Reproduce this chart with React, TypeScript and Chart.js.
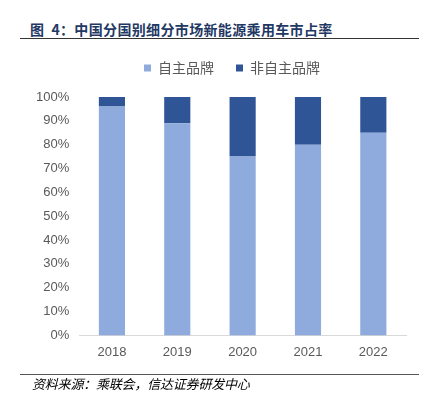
import React, { useEffect, useRef } from "react";
import { Chart, registerables } from "chart.js";
Chart.register(...registerables);

const categories = ["2018", "2019", "2020", "2021", "2022"];
const domesticShare = [96, 89, 75, 80, 85];
const foreignShare = [4, 11, 25, 20, 15];
const seriesNames = ["自主品牌", "非自主品牌"];
const yTicks = [0, 10, 20, 30, 40, 50, 60, 70, 80, 90, 100];

const FONT = "'Noto Sans CJK SC', 'Liberation Sans', sans-serif";
const NUM_FONT = "'Liberation Sans', sans-serif";

const legendSpacer = {
  id: "legendSpacer",
  beforeInit(chart: any) {
    const orig = chart.legend.fit;
    chart.legend.fit = function () {
      orig.bind(chart.legend)();
      this.height += 12;
    };
  },
  afterLayout(chart: any) {
    chart.legend.left += 16;
    chart.legend.right += 16;
  },
};

export default function App() {
  const ref = useRef<HTMLCanvasElement>(null);
  useEffect(() => {
    const chart = new Chart(ref.current!, {
      type: "bar",
      data: {
        labels: categories,
        datasets: [
          { label: seriesNames[0], data: domesticShare, backgroundColor: "#8faadc", barPercentage: 0.8, categoryPercentage: 0.5 },
          { label: seriesNames[1], data: foreignShare, backgroundColor: "#2f5597", barPercentage: 0.8, categoryPercentage: 0.5 },
        ],
      },
      plugins: [legendSpacer],
      options: {
        animation: false,
        responsive: false,
        maintainAspectRatio: false,
        layout: { padding: { left: 0, right: 11, top: 0, bottom: 11 } },
        plugins: {
          legend: {
            position: "top",
            labels: {
              boxWidth: 7,
              boxHeight: 7,
              color: "#595959",
              font: { family: FONT, size: 14 },
              padding: 22,
            },
          },
          tooltip: { enabled: false },
        },
        scales: {
          x: {
            stacked: true,
            grid: { display: false, drawTicks: false },
            border: { color: "#d9d9d9" },
            ticks: { color: "#595959", padding: 9, font: { family: NUM_FONT, size: 13 } },
          },
          y: {
            stacked: true,
            min: 0,
            max: 100,
            afterBuildTicks: (axis: any) => {
              axis.ticks = yTicks.map((v) => ({ value: v }));
            },
            grid: { display: false, drawTicks: false },
            border: { display: false },
            ticks: {
              color: "#595959",
              padding: 10,
              font: { family: NUM_FONT, size: 13 },
              callback: (v: any) => v + "%",
            },
          },
        },
      },
    });
    return () => chart.destroy();
  }, []);

  return (
    <div style={{ position: "fixed", left: 0, top: 0, width: 431, height: 396, background: "#fff", overflow: "hidden" }}>
      <div
        style={{
          position: "absolute",
          left: 30,
          top: 19,
          fontFamily: FONT,
          fontWeight: "bold",
          fontSize: 14,
          lineHeight: "20px",
          letterSpacing: 0.35,
          color: "#1f3864",
          whiteSpace: "nowrap",
        }}
      >
        图&nbsp;&nbsp;4：中国分国别细分市场新能源乘用车市占率
      </div>
      <div style={{ position: "absolute", left: 20, top: 38, width: 399, height: 1, background: "#333" }} />
      <canvas ref={ref} width={391} height={341} style={{ position: "absolute", left: 26, top: 39 }} />
      <div style={{ position: "absolute", left: 20, top: 374, width: 399, height: 1, background: "#555" }} />
      <div
        style={{
          position: "absolute",
          left: 32,
          top: 376,
          fontFamily: FONT,
          fontStyle: "italic",
          fontSize: 13,
          lineHeight: "15px",
          letterSpacing: -0.2,
          color: "#000",
          whiteSpace: "nowrap",
        }}
      >
        资料来源：乘联会，信达证券研发中心
      </div>
    </div>
  );
}
